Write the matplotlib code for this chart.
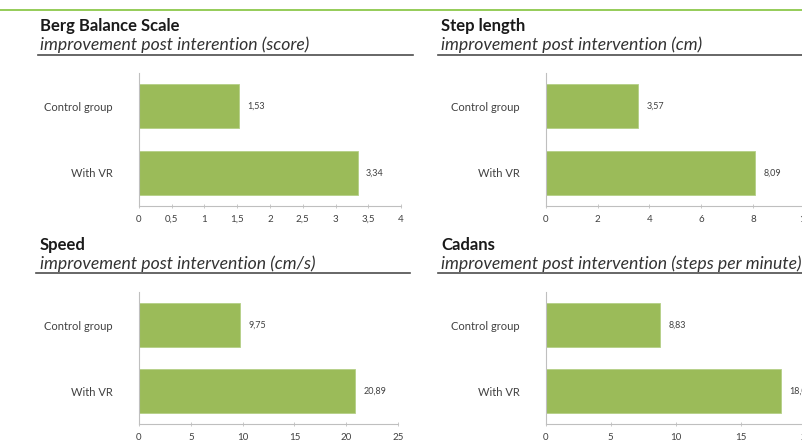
import matplotlib
matplotlib.use("Agg")
import matplotlib.pyplot as plt
from matplotlib.ticker import FuncFormatter, MultipleLocator

GROUPS = ["Control group", "With VR"]

BERG = [1.53, 3.34]
STEP_LENGTH = [3.57, 8.09]
SPEED = [9.75, 20.89]
CADANS = [8.83, 18.07]

TITLES = ["Berg Balance Scale", "Step length", "Speed", "Cadans"]
SUBTITLES = [
    "improvement post interention (score)",
    "improvement post intervention (cm)",
    "improvement post intervention (cm/s)",
    "improvement post intervention (steps per minute)",
]
X_MAX = [4, 10, 25, 20]
X_STEP = [0.5, 2, 5, 5]

BAR_GREEN = "#9bbb59"
TOP_GREEN = "#8cc84b"
INK = "#1a1a1a"
TEXT_GRAY = "#333333"
LABEL_GRAY = "#404040"
AXIS_GRAY = "#bfbfbf"
RULE_GRAY = "#4d4d4d"

W, H = 803, 444
plt.rcParams["font.family"] = ["Lato", "DejaVu Sans"]

fig = plt.figure(figsize=(W / 100, H / 100), dpi=100, facecolor="white")


def fx(px):
    return px / W


def fy(py):
    return 1 - py / H


def comma(v, _pos=None):
    return f"{v:g}".replace(".", ",")


# green rule across the top of the page
fig.add_artist(plt.Line2D([0, 1], [fy(10), fy(10)], color=TOP_GREEN, lw=1.3, transform=fig.transFigure))

# pixel layout per panel: text left, title y, subtitle y, rule y, rule x0, rule x1,
# axes left, axes right, axes top, axes bottom
panels = [
    (40, 26, 45, 55, 38, 413, 139, 401, 73, 206),
    (441, 26, 45, 55, 438, 810, 545.7, 805, 73, 206),
    (40, 245, 264, 273, 36, 410, 139, 398, 292, 424),
    (441, 245, 264, 273, 438, 810, 545.7, 805.7, 292, 424),
]
series = [BERG, STEP_LENGTH, SPEED, CADANS]

for i, (tx, ty, sy, ry, rx0, rx1, al, ar, at, ab) in enumerate(panels):
    fig.text(fx(tx), fy(ty), TITLES[i], fontsize=12, fontweight="bold", color=INK, va="center", ha="left")
    fig.text(fx(tx), fy(sy), SUBTITLES[i], fontsize=12.7, style="italic", color=TEXT_GRAY, va="center", ha="left")
    fig.add_artist(plt.Line2D([fx(rx0), fx(rx1)], [fy(ry), fy(ry)], color=RULE_GRAY, lw=1.2, transform=fig.transFigure))

    ax = fig.add_axes([fx(al), fy(ab), fx(ar - al), (ab - at) / H])
    vals = series[i]
    bars = ax.barh(range(len(GROUPS)), vals, height=0.66, color=BAR_GREEN, edgecolor="#b5cf86", linewidth=0.6)
    ax.bar_label(bars, labels=[comma(v) for v in vals], padding=6, fontsize=6.5, color=LABEL_GRAY, clip_on=False)

    ax.set_xlim(0, X_MAX[i])
    ax.set_ylim(1.5, -0.5)
    ax.set_yticks(range(len(GROUPS)))
    ax.set_yticklabels(GROUPS, fontsize=8, color=LABEL_GRAY)
    ax.xaxis.set_major_locator(MultipleLocator(X_STEP[i]))
    ax.xaxis.set_major_formatter(FuncFormatter(comma))
    ax.tick_params(axis="x", direction="inout", length=3, width=0.6, color=AXIS_GRAY, labelsize=7, labelcolor=LABEL_GRAY, pad=5)
    ax.tick_params(axis="y", length=0, pad=19)
    for s in ("top", "right"):
        ax.spines[s].set_visible(False)
    for s in ("left", "bottom"):
        ax.spines[s].set_color(AXIS_GRAY)
        ax.spines[s].set_linewidth(0.8)
    ax.set_facecolor("none")

fig.savefig("out.png", dpi=100, facecolor="white")
